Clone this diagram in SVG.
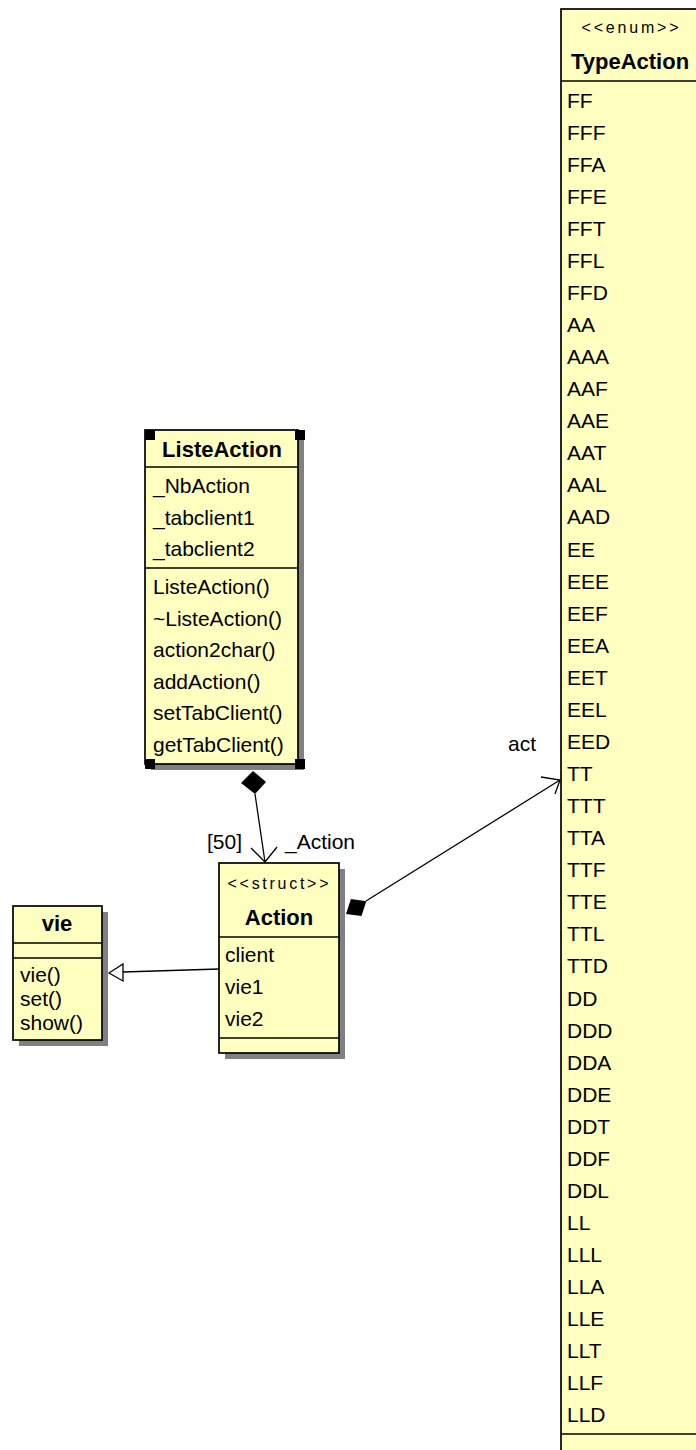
<svg xmlns="http://www.w3.org/2000/svg" width="696" height="1450" viewBox="0 0 696 1450">
<style>
.box{fill:#ffffc0;stroke:#000;stroke-width:1.7}
.sep{stroke:#000;stroke-width:1.7}
.shadow{fill:#808080}
.t{font-family:"Liberation Sans",Arial,sans-serif;font-size:21px;fill:#000}
.b{font-family:"Liberation Sans",Arial,sans-serif;font-size:22px;font-weight:bold;fill:#000;text-anchor:middle}
.s{font-family:"Liberation Sans",Arial,sans-serif;font-size:16px;fill:#000;text-anchor:middle}
.ln{stroke:#000;stroke-width:1.3;fill:none}
.h{fill:#000}
</style>
<rect width="696" height="1450" fill="#fff"/>

<g id="connectors">
  <!-- ListeAction to Action composition -->
  <polygon points="253,771 266,782 255,794 241,783" fill="#000"/>
  <line class="ln" x1="255" y1="794" x2="265" y2="862"/>
  <polyline class="ln" points="251,848 265,862 277,847"/>
  <text class="t" x="207" y="849">[50]</text>
  <text class="t" x="285" y="849">_Action</text>
  <!-- Action to TypeAction -->
  <polygon points="346,914 361.5,916.1 366.3,901.2 350.9,899.1" fill="#000"/>
  <line class="ln" x1="366" y1="901" x2="560" y2="780"/>
  <polyline class="ln" points="541,777 560,780 555,794"/>
  <text class="t" x="508" y="751">act</text>
  <!-- Action generalizes vie -->
  <line class="ln" x1="219" y1="969" x2="123" y2="972"/>
  <polygon points="109,973 123,964 123,981" fill="#fff" stroke="#000" stroke-width="1.3"/>
</g>

<g id="TypeAction">
  <rect class="box" x="561" y="9" width="160" height="1460"/>
  <text class="s" x="630" y="33" textLength="97" lengthAdjust="spacing">&lt;&lt;enum&gt;&gt;</text>
  <text class="b" x="630" y="69">TypeAction</text>
  <line class="sep" x1="561" y1="81" x2="700" y2="81"/>
  <line class="sep" x1="561" y1="1434" x2="700" y2="1434"/>
  <g class="t">
    <text x="567" y="107.5">FF</text>
    <text x="567" y="139.6">FFF</text>
    <text x="567" y="171.6">FFA</text>
    <text x="567" y="203.7">FFE</text>
    <text x="567" y="235.8">FFT</text>
    <text x="567" y="267.9">FFL</text>
    <text x="567" y="299.9">FFD</text>
    <text x="567" y="332.0">AA</text>
    <text x="567" y="364.1">AAA</text>
    <text x="567" y="396.1">AAF</text>
    <text x="567" y="428.2">AAE</text>
    <text x="567" y="460.3">AAT</text>
    <text x="567" y="492.3">AAL</text>
    <text x="567" y="524.4">AAD</text>
    <text x="567" y="556.5">EE</text>
    <text x="567" y="588.6">EEE</text>
    <text x="567" y="620.6">EEF</text>
    <text x="567" y="652.7">EEA</text>
    <text x="567" y="684.8">EET</text>
    <text x="567" y="716.8">EEL</text>
    <text x="567" y="748.9">EED</text>
    <text x="567" y="781.0">TT</text>
    <text x="567" y="813.0">TTT</text>
    <text x="567" y="845.1">TTA</text>
    <text x="567" y="877.2">TTF</text>
    <text x="567" y="909.3">TTE</text>
    <text x="567" y="941.3">TTL</text>
    <text x="567" y="973.4">TTD</text>
    <text x="567" y="1005.5">DD</text>
    <text x="567" y="1037.5">DDD</text>
    <text x="567" y="1069.6">DDA</text>
    <text x="567" y="1101.7">DDE</text>
    <text x="567" y="1133.7">DDT</text>
    <text x="567" y="1165.8">DDF</text>
    <text x="567" y="1197.9">DDL</text>
    <text x="567" y="1230.0">LL</text>
    <text x="567" y="1262.0">LLL</text>
    <text x="567" y="1294.1">LLA</text>
    <text x="567" y="1326.2">LLE</text>
    <text x="567" y="1358.2">LLT</text>
    <text x="567" y="1390.3">LLF</text>
    <text x="567" y="1422.4">LLD</text>
  </g>
</g>

<g id="ListeAction">
  <rect class="shadow" x="151" y="436" width="153" height="334"/>
  <rect class="box" x="145" y="430" width="153" height="334"/>
  <text class="b" x="222" y="457">ListeAction</text>
  <line class="sep" x1="145" y1="467" x2="298" y2="467"/>
  <line class="sep" x1="145" y1="568" x2="298" y2="568"/>
  <g class="t">
    <text x="153" y="493">_NbAction</text>
    <text x="153" y="524.6">_tabclient1</text>
    <text x="153" y="556.2">_tabclient2</text>
    <text x="153" y="594">ListeAction()</text>
    <text x="153" y="625.6">~ListeAction()</text>
    <text x="153" y="657.2">action2char()</text>
    <text x="153" y="688.8">addAction()</text>
    <text x="153" y="720.4">setTabClient()</text>
    <text x="153" y="752">getTabClient()</text>
  </g>
  <rect class="h" x="145" y="430" width="10" height="10"/>
  <rect class="h" x="295" y="430" width="10" height="10"/>
  <rect class="h" x="145" y="759" width="10" height="10"/>
  <rect class="h" x="295" y="759" width="10" height="10"/>
</g>

<g id="Action">
  <rect class="shadow" x="225" y="869" width="120" height="190"/>
  <rect class="box" x="219" y="863" width="120" height="190"/>
  <text class="s" x="278" y="889" textLength="101" lengthAdjust="spacing">&lt;&lt;struct&gt;&gt;</text>
  <text class="b" x="279" y="925">Action</text>
  <line class="sep" x1="219" y1="937" x2="339" y2="937"/>
  <line class="sep" x1="219" y1="1038" x2="339" y2="1038"/>
  <g class="t">
    <text x="225" y="962">client</text>
    <text x="225" y="994">vie1</text>
    <text x="225" y="1026">vie2</text>
  </g>
</g>

<g id="vie">
  <rect class="shadow" x="19" y="912" width="89" height="134"/>
  <rect class="box" x="13" y="906" width="89" height="134"/>
  <text class="b" x="57" y="931">vie</text>
  <line class="sep" x1="13" y1="943" x2="102" y2="943"/>
  <line class="sep" x1="13" y1="958" x2="102" y2="958"/>
  <g class="t">
    <text x="20" y="982">vie()</text>
    <text x="20" y="1006">set()</text>
    <text x="20" y="1030">show()</text>
  </g>
</g>
</svg>
